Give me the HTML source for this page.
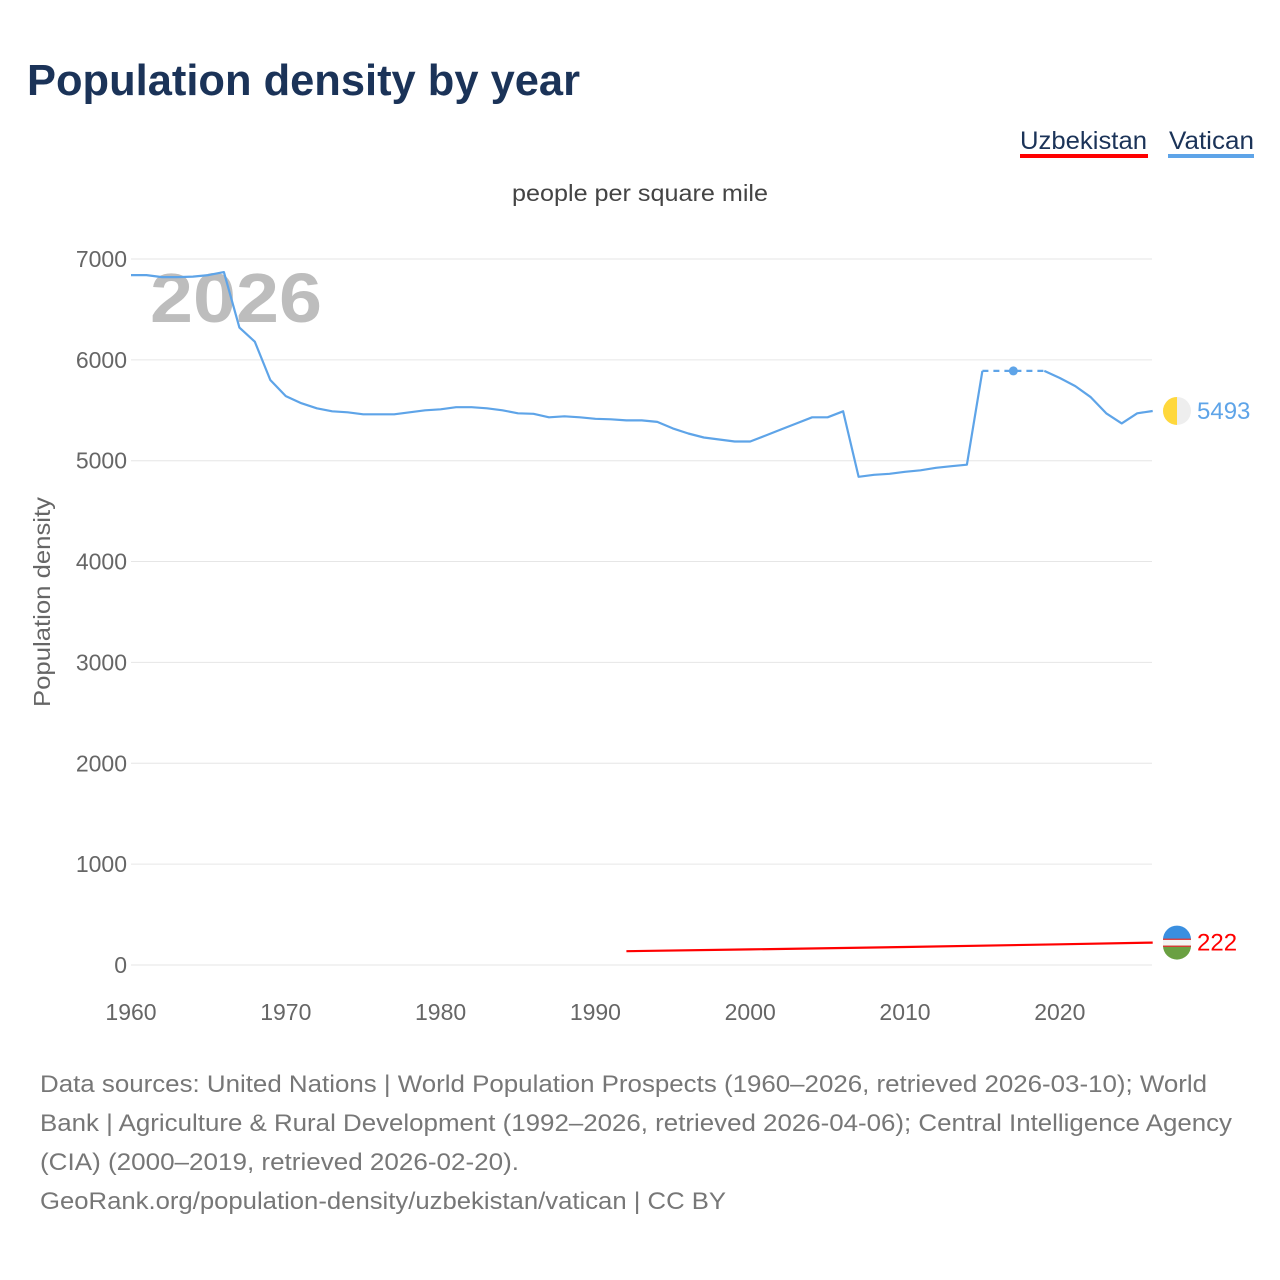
<!DOCTYPE html>
<html><head><meta charset="utf-8">
<style>
body{margin:0;background:#fff;font-family:"Liberation Sans",sans-serif;}
#wrap{position:relative;width:1280px;height:1280px;overflow:hidden;}
</style></head>
<body>
<div id="wrap">
<svg id="chart" width="1280" height="1280" font-family="Liberation Sans, sans-serif">
<text x="27" y="95" font-size="44" font-weight="bold" fill="#1b3358" textLength="553" lengthAdjust="spacingAndGlyphs">Population density by year</text>
<g>
<text x="1020" y="149" font-size="25" fill="#1b3358" textLength="127" lengthAdjust="spacingAndGlyphs">Uzbekistan</text>
<rect x="1020" y="154" width="128" height="4" fill="#ff0000"/>
</g>
<g>
<text x="1169" y="149" font-size="25" fill="#1b3358" textLength="85" lengthAdjust="spacingAndGlyphs">Vatican</text>
<rect x="1168" y="154" width="86" height="4" fill="#5ea4e8"/>
</g>
<text x="512" y="201" font-size="23" fill="#444" textLength="256" lengthAdjust="spacingAndGlyphs">people per square mile</text>
<text transform="translate(50,707) rotate(-90)" font-size="23" fill="#666" textLength="210" lengthAdjust="spacingAndGlyphs">Population density</text>
<text x="150" y="322" font-size="70" font-weight="bold" fill="#bdbdbd" textLength="172" lengthAdjust="spacingAndGlyphs">2026</text>
<g id="grid"></g><g id="xt"></g><g id="series"></g>
<g font-size="24" fill="#777">
<text x="40" y="1092" textLength="1167" lengthAdjust="spacingAndGlyphs">Data sources: United Nations | World Population Prospects (1960–2026, retrieved 2026-03-10); World</text>
<text x="40" y="1131" textLength="1192" lengthAdjust="spacingAndGlyphs">Bank | Agriculture &amp; Rural Development (1992–2026, retrieved 2026-04-06); Central Intelligence Agency</text>
<text x="40" y="1170" textLength="479" lengthAdjust="spacingAndGlyphs">(CIA) (2000–2019, retrieved 2026-02-20).</text>
<text x="40" y="1209" textLength="686" lengthAdjust="spacingAndGlyphs">GeoRank.org/population-density/uzbekistan/vatican | CC BY</text>
</g>
</svg>
</div>
<script>
const yTicks=[0,1000,2000,3000,4000,5000,6000,7000];
const xTicks=[1960,1970,1980,1990,2000,2010,2020];
const vatYears=[1960,1961,1962,1963,1964,1965,1966,1967,1968,1969,1970,1971,1972,1973,1974,1975,1976,1977,1978,1979,1980,1981,1982,1983,1984,1985,1986,1987,1988,1989,1990,1991,1992,1993,1994,1995,1996,1997,1998,1999,2000,2001,2002,2003,2004,2005,2006,2007,2008,2009,2010,2011,2012,2013,2014,2015];
const vatValues=[6840,6840,6820,6820,6825,6840,6870,6320,6180,5800,5640,5570,5520,5490,5480,5460,5460,5460,5480,5500,5510,5530,5530,5520,5500,5470,5465,5430,5440,5430,5415,5410,5400,5400,5385,5320,5270,5230,5210,5190,5190,5250,5310,5370,5430,5430,5490,4840,4860,4870,4890,4905,4930,4945,4960,5890];
const vatGapYears=[2015,2019];
const vatGapValues=[5890,5890];
const vatDotYear=[2017];const vatDotValue=[5890];
const vatTailYears=[2019,2020,2021,2022,2023,2024,2025,2026];
const vatTailValues=[5890,5820,5740,5630,5470,5370,5470,5493];
const uzbYears=[1992,2000,2010,2020,2026];
const uzbValues=[137,155,178,205,222];
const X=y=>131+(y-1960)*15.48;
const Y=v=>965-v*0.10086;
const NS="http://www.w3.org/2000/svg";
function mk(t,a,p){const e=document.createElementNS(NS,t);for(const k in a)e.setAttribute(k,a[k]);p.appendChild(e);return e;}
const grid=document.getElementById('grid');
yTicks.forEach(v=>{
 const l=mk('line',{x1:131,x2:1152,y1:Y(v),y2:Y(v),stroke:'#e6e6e6','stroke-width':1},grid);
 
 
 const t=mk('text',{x:127,y:Y(v)+8,'font-size':23,fill:'#666','text-anchor':'end'},grid);
 t.textContent=v;
 
 
});
const xt=document.getElementById('xt');
xTicks.forEach(v=>{
 const t=mk('text',{x:X(v),y:1020,'font-size':23,fill:'#666','text-anchor':'middle'},xt);
 t.textContent=v;
 
 
});
const s=document.getElementById('series');
const pts=(xs,vs)=>xs.map((x,i)=>X(x).toFixed(1)+','+Y(vs[i]).toFixed(1)).join(' ');
let p=mk('polyline',{points:pts(vatYears,vatValues),fill:'none',stroke:'#5ea4e8','stroke-width':2.2,'stroke-linejoin':'round'},s);


p=mk('polyline',{points:pts(vatGapYears,vatGapValues),fill:'none',stroke:'#5ea4e8','stroke-width':2.2,'stroke-dasharray':'6,5'},s);


p=mk('circle',{cx:X(vatDotYear[0]),cy:Y(vatDotValue[0]),r:4.5,fill:'#5ea4e8'},s);


p=mk('polyline',{points:pts(vatTailYears,vatTailValues),fill:'none',stroke:'#5ea4e8','stroke-width':2.2,'stroke-linejoin':'round'},s);


p=mk('polyline',{points:pts(uzbYears,uzbValues),fill:'none',stroke:'#ff0000','stroke-width':2.2},s);


const vy=Y(vatTailValues[vatTailValues.length-1]), uy=Y(uzbValues[uzbValues.length-1]);
let g=mk('g',{},s);


mk('circle',{cx:1177,cy:vy,r:14,fill:'#eeeeee'},g);
mk('path',{d:`M1177,${vy-14} A14,14 0 0,0 1177,${vy+14} Z`,fill:'#ffd83c'},g);
let t=mk('text',{x:1197,y:vy+8,'font-size':24,fill:'#5ea4e8'},s);
t.textContent=vatTailValues[vatTailValues.length-1];


g=mk('g',{},s);


mk('path',{d:`M1163,${uy-3} A14,14 0 0,1 1191,${uy-3} Z`,fill:'#3a8fe0'},g);
mk('rect',{x:1163,y:uy-3,width:28,height:6,fill:'#f4f4f4'},g);
mk('path',{d:`M1163,${uy+3} A14,14 0 0,0 1191,${uy+3} Z`,fill:'#6aa042'},g);
mk('rect',{x:1163,y:uy-4,width:28,height:1.3,fill:'#d33'},g);
mk('rect',{x:1163,y:uy+3,width:28,height:1.3,fill:'#d33'},g);
t=mk('text',{x:1197,y:uy+8,'font-size':24,fill:'#ff0000'},s);
t.textContent=uzbValues[uzbValues.length-1];


</script>
</body></html>
